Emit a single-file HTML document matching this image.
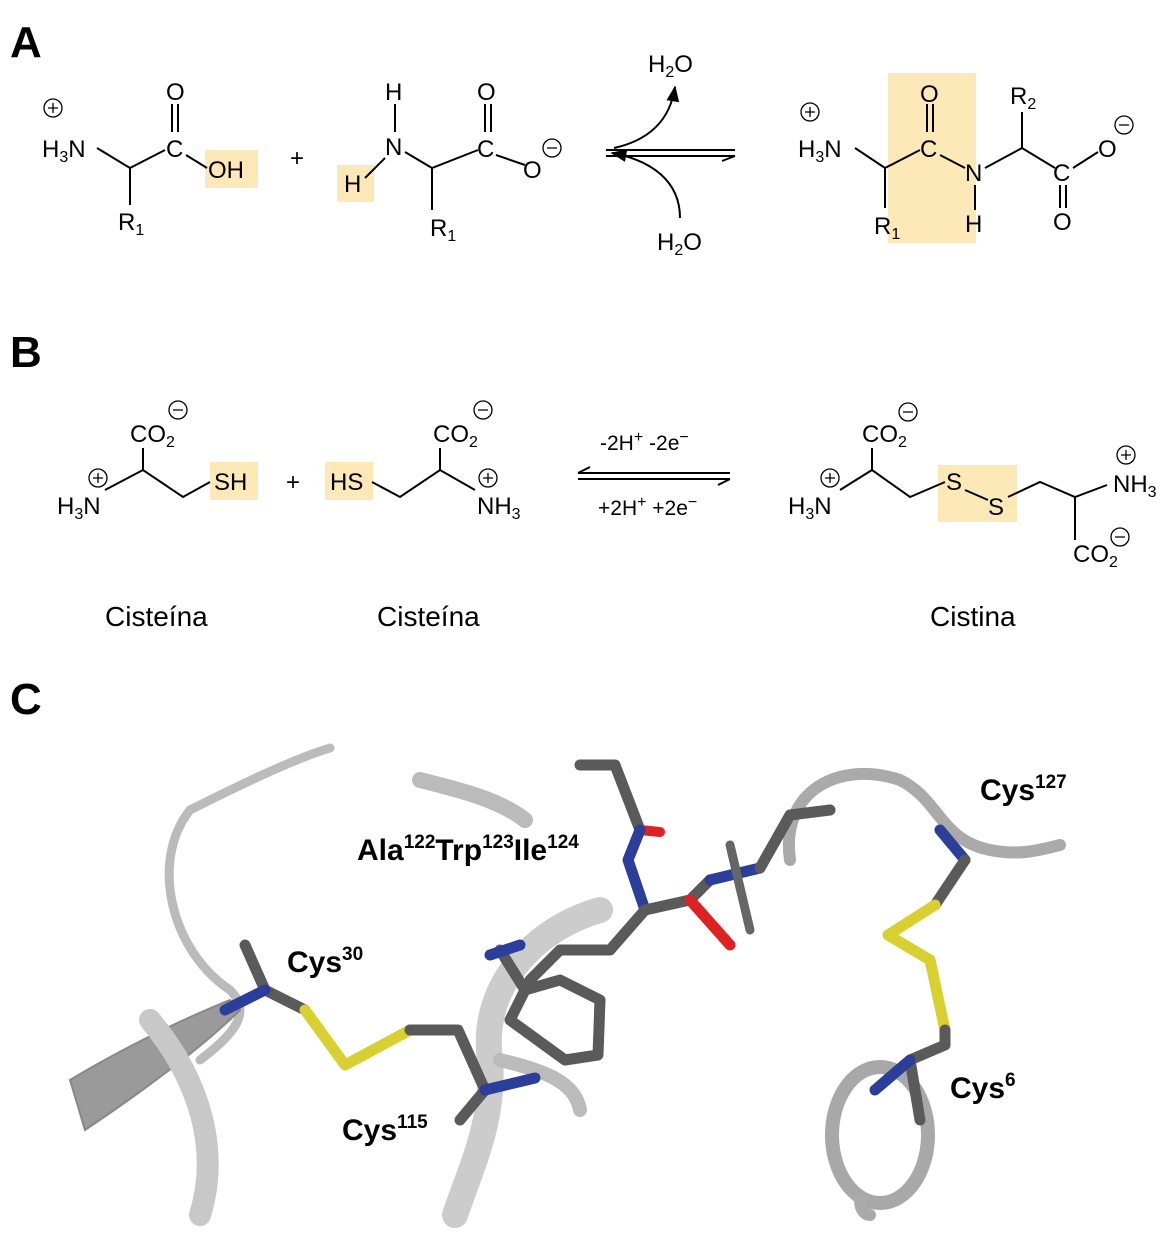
<!DOCTYPE html>
<html><head><meta charset="utf-8"><style>
html,body{margin:0;padding:0;background:#fff}
svg{display:block}
text{font-family:"Liberation Sans",Arial,sans-serif;fill:#000}
.a{font-size:24px}
.s{font-size:16px}
.p{font-size:44px;font-weight:bold}
.n{font-size:28px}
.l{font-size:30px;font-weight:bold}
.ls{font-size:19px;font-weight:bold}
</style></head><body>
<svg width="1168" height="1238" viewBox="0 0 1168 1238" xmlns="http://www.w3.org/2000/svg">
<defs>
<marker id="ah" viewBox="0 0 10 10" refX="9" refY="5" markerWidth="8" markerHeight="8" orient="auto"><path d="M0,1 L10,5 L0,9 z" fill="#000"/></marker>
</defs>
<g fill="#fde9b8">
<rect x="205" y="150" width="53" height="38"/>
<rect x="337" y="165" width="37" height="37"/>
<rect x="888" y="73" width="88" height="170"/>
<rect x="210" y="462" width="48" height="38"/>
<rect x="325" y="462" width="48" height="38"/>
<rect x="938" y="465" width="79" height="57"/>
</g>
<text class="p" x="10" y="57">A</text>
<text class="p" x="10" y="367">B</text>
<text class="p" x="10" y="714">C</text>
<g stroke="#000" stroke-width="2" fill="none">
<path d="M97,148 L130,168 L165,150 M130,168 L130,205 M172,104 L172,132 M178,104 L178,132 M186,155 L207,168"/>
<path d="M395,104 L395,132 M365,178 L385,158 M405,152 L432,168 L478,150 M432,168 L432,210 M485,104 L485,132 M491,104 L491,132 M496,155 L525,165"/>
<path d="M606,150 L735,150 M606,156 L735,156 M735,156 L722,161"/>
<path d="M614,148 C650,140 670,120 675,87" marker-end="url(#ah)"/>
<path d="M680,218 C680,180 650,160 612,153" marker-end="url(#ah)"/>
<path d="M855,148 L885,168 L920,150 M885,168 L885,208 M927,104 L927,132 M933,104 L933,132 M940,155 L965,168 M985,168 L1022,148 L1055,168 M1022,148 L1022,112 M975,185 L975,210 M1073,168 L1098,152 M1060,185 L1060,208 M1066,185 L1066,208"/>
<path d="M105,490 L143,470 L183,497 L210,482 M143,470 L143,448"/>
<path d="M372,482 L400,497 L440,470 L475,490 M440,470 L440,448"/>
<path d="M578,473 L730,473 M578,473 L590,467 M578,479 L730,479 M730,479 L718,485"/>
<path d="M840,490 L872,470 L910,497 L945,482 M872,470 L872,448 M965,490 L988,500 M1008,497 L1040,482 L1075,497 L1107,485 M1075,497 L1075,540"/>
</g>
<g fill="none" stroke="#000" stroke-width="1.3">
<circle cx="53" cy="108" r="9"/><circle cx="552" cy="148" r="9"/><circle cx="810" cy="112" r="9"/><circle cx="1124" cy="125" r="9"/>
<circle cx="178" cy="410" r="9"/><circle cx="98" cy="478" r="9"/><circle cx="483" cy="410" r="9"/><circle cx="488" cy="478" r="9"/>
<circle cx="908" cy="412" r="9"/><circle cx="830" cy="478" r="9"/><circle cx="1126" cy="455" r="9"/><circle cx="1120" cy="537" r="9"/>
</g>
<g stroke="#000" stroke-width="1.3">
<path d="M48,108h10M53,103v10M547,148h10M805,112h10M810,107v10M1119,125h10M173,410h10M93,478h10M98,473v10M478,410h10M483,478h10M488,473v10M903,412h10M825,478h10M830,473v10M1121,455h10M1126,450v10M1115,537h10"/>
</g>
<g class="a">
<text x="42" y="157">H<tspan class="s" dy="5">3</tspan><tspan dy="-5">N</tspan></text>
<text x="166" y="100">O</text><text x="166" y="157">C</text><text x="208" y="178">OH</text>
<text x="118" y="230">R<tspan class="s" dy="5">1</tspan></text>
<text x="290" y="166">+</text>
<text x="385" y="100">H</text><text x="385" y="155">N</text><text x="344" y="192">H</text>
<text x="477" y="100">O</text><text x="477" y="157">C</text><text x="523" y="178">O</text>
<text x="430" y="236">R<tspan class="s" dy="5">1</tspan></text>
<text x="648" y="72">H<tspan class="s" dy="5">2</tspan><tspan dy="-5">O</tspan></text>
<text x="657" y="250">H<tspan class="s" dy="5">2</tspan><tspan dy="-5">O</tspan></text>
<text x="798" y="157">H<tspan class="s" dy="5">3</tspan><tspan dy="-5">N</tspan></text>
<text x="920" y="102">O</text><text x="920" y="157">C</text><text x="965" y="181">N</text><text x="965" y="232">H</text>
<text x="874" y="234">R<tspan class="s" dy="5">1</tspan></text>
<text x="1010" y="104">R<tspan class="s" dy="5">2</tspan></text>
<text x="1053" y="181">C</text><text x="1053" y="230">O</text><text x="1098" y="157">O</text>
<text x="130" y="442">CO<tspan class="s" dy="5">2</tspan></text>
<text x="57" y="514">H<tspan class="s" dy="5">3</tspan><tspan dy="-5">N</tspan></text>
<text x="214" y="490">SH</text>
<text x="286" y="490">+</text>
<text x="330" y="490">HS</text>
<text x="433" y="442">CO<tspan class="s" dy="5">2</tspan></text>
<text x="477" y="514">NH<tspan class="s" dy="5">3</tspan></text>
<text x="600" y="450" style="font-size:21px">-2H<tspan class="s" dy="-8">+</tspan><tspan dy="8"> -2e</tspan><tspan class="s" dy="-8">−</tspan></text>
<text x="598" y="515" style="font-size:21px">+2H<tspan class="s" dy="-8">+</tspan><tspan dy="8"> +2e</tspan><tspan class="s" dy="-8">−</tspan></text>
<text x="862" y="442">CO<tspan class="s" dy="5">2</tspan></text>
<text x="788" y="514">H<tspan class="s" dy="5">3</tspan><tspan dy="-5">N</tspan></text>
<text x="946" y="490">S</text><text x="988" y="515">S</text>
<text x="1113" y="492">NH<tspan class="s" dy="5">3</tspan></text>
<text x="1073" y="562">CO<tspan class="s" dy="5">2</tspan></text>
</g>
<text class="n" x="105" y="626">Cisteína</text>
<text class="n" x="377" y="626">Cisteína</text>
<text class="n" x="930" y="626">Cistina</text>
<g fill="none" stroke-linecap="round">
<path d="M330,748 C290,760 230,790 190,810 C150,860 170,950 230,990 C250,1010 240,1030 200,1060" stroke="#bbb" stroke-width="9"/>
<path d="M230,1000 C180,1020 120,1050 70,1080 L85,1130 C130,1100 200,1050 240,1010 z" fill="#9a9a9a" stroke="#888" stroke-width="2"/>
<path d="M150,1020 C200,1080 220,1150 200,1215" stroke="#c8c8c8" stroke-width="22"/>
<path d="M420,780 C460,790 500,800 525,820" stroke="#bbb" stroke-width="16"/>
<path d="M600,910 C530,930 480,990 490,1060 C495,1120 470,1170 455,1215" stroke="#ccc" stroke-width="26"/>
<path d="M500,1060 C540,1070 575,1080 580,1110" stroke="#bbb" stroke-width="14"/>
<path d="M790,860 C780,790 840,760 900,780 C940,800 940,840 990,850 C1020,856 1040,850 1060,845" stroke="#aaa" stroke-width="12"/>
<ellipse cx="880" cy="1135" rx="48" ry="68" stroke="#a8a8a8" stroke-width="14"/>
<path d="M860,1200 C860,1210 865,1215 870,1215" stroke="#aaa" stroke-width="12"/>
</g>
<g fill="none" stroke-width="11" stroke-linecap="round" stroke-linejoin="round">
<path d="M245,945 L265,990 L305,1010" stroke="#5a5a5a"/>
<path d="M225,1010 L265,990" stroke="#2a3e9a"/>
<path d="M305,1010 L345,1065 L410,1030" stroke="#d8d030"/>
<path d="M410,1030 L458,1030 L485,1090 L460,1120" stroke="#5a5a5a"/>
<path d="M485,1090 L535,1078" stroke="#2a3e9a"/>
<path d="M580,765 L615,765 L640,830" stroke="#5a5a5a"/>
<path d="M640,830 L660,832" stroke="#d22" stroke-width="10"/>
<path d="M640,830 L628,860 L645,910" stroke="#2a3e9a"/>
<path d="M645,910 L690,900 L710,880" stroke="#5a5a5a"/>
<path d="M710,880 L760,868" stroke="#2a3e9a"/>
<path d="M760,868 L790,815 L830,810" stroke="#5a5a5a"/>
<path d="M690,900 L730,945" stroke="#d22"/>
<path d="M730,845 L750,930" stroke="#666" stroke-width="9"/>
<path d="M645,910 L610,950 L560,950 L530,980" stroke="#5a5a5a"/>
<path d="M500,950 L525,990 L510,1020 L565,1060 L598,1055 L600,1000 L560,980 L525,990" stroke="#5a5a5a"/>
<path d="M490,955 L520,945" stroke="#2a3e9a"/>
<path d="M940,830 L965,860" stroke="#2a3e9a"/>
<path d="M965,860 L935,905" stroke="#5a5a5a"/>
<path d="M935,905 L888,935 L930,960 L945,1030" stroke="#d8d030"/>
<path d="M945,1030 L945,1045 L910,1060 L920,1120" stroke="#5a5a5a"/>
<path d="M910,1060 L875,1090" stroke="#2a3e9a"/>
</g>
<text class="l" x="357" y="860">Ala<tspan class="ls" dy="-12">122</tspan><tspan dy="12">Trp</tspan><tspan class="ls" dy="-12">123</tspan><tspan dy="12">Ile</tspan><tspan class="ls" dy="-12">124</tspan></text>
<text class="l" x="287" y="972">Cys<tspan class="ls" dy="-12">30</tspan></text>
<text class="l" x="342" y="1140">Cys<tspan class="ls" dy="-12">115</tspan></text>
<text class="l" x="980" y="800">Cys<tspan class="ls" dy="-12">127</tspan></text>
<text class="l" x="950" y="1098">Cys<tspan class="ls" dy="-12">6</tspan></text>
</svg>
</body></html>
